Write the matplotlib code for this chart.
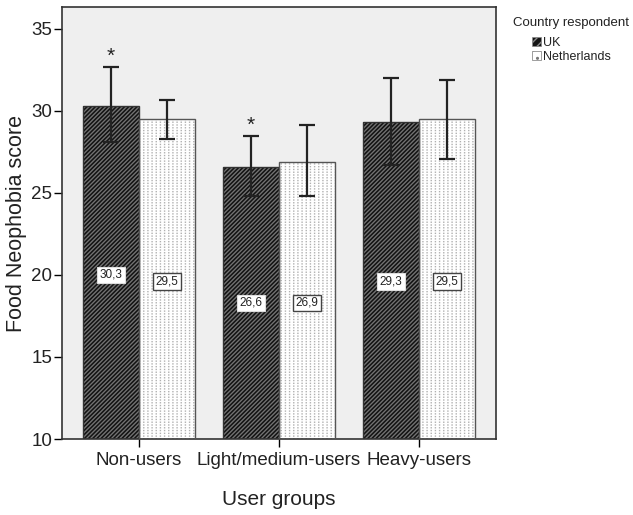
import matplotlib
matplotlib.use("Agg")
import matplotlib.pyplot as plt
import numpy as np
from matplotlib.patches import Patch

plt.rcParams['font.family'] = ['Liberation Sans', 'DejaVu Sans']
plt.rcParams['hatch.linewidth'] = 1.0

groups = ["Non-users", "Light/medium-users", "Heavy-users"]
countries = ["UK", "Netherlands"]
uk_means = [30.3, 26.6, 29.3]
nl_means = [29.5, 26.9, 29.5]
uk_ci_low = [28.1, 24.8, 26.7]
uk_ci_high = [32.7, 28.5, 32.0]
nl_ci_low = [28.3, 24.8, 27.1]
nl_ci_high = [30.7, 29.15, 31.9]
uk_signif = [True, True, False]
label_y_uk = [20.0, 18.3, 19.6]
label_y_nl = [19.6, 18.3, 19.6]

fig = plt.figure(figsize=(6.33, 5.15), dpi=100)
ax = fig.add_axes([62/633, 1-439/515, (496-62)/633, (439-7)/515])
ax.set_facecolor('#efefef')

x = np.arange(len(groups))
w = 0.4
bottom = 10

uk_h = [m - bottom for m in uk_means]
nl_h = [m - bottom for m in nl_means]

# UK bars: near-black fill with fine diagonal stripes
ax.bar(x - w/2, uk_h, w, bottom=bottom, color='#121212', edgecolor='#727272',
       hatch='////////', linewidth=0, zorder=2)
ax.bar(x - w/2, uk_h, w, bottom=bottom, fill=False, edgecolor='#333333',
       linewidth=1.0, zorder=3)
# Netherlands bars: white fill with dotted vertical lines
ax.bar(x + w/2, nl_h, w, bottom=bottom, color='white', edgecolor='#b0b0b0',
       hatch='||||', linewidth=0, zorder=2)
ax.bar(x + w/2, nl_h, w, bottom=bottom, fill=False, edgecolor='white',
       hatch='------', linewidth=0, zorder=2.5)
ax.bar(x + w/2, nl_h, w, bottom=bottom, fill=False, edgecolor='#555555',
       linewidth=1.0, zorder=3)

# 95% CI error bars
for xs, means, lo, hi in [(x - w/2, uk_means, uk_ci_low, uk_ci_high),
                          (x + w/2, nl_means, nl_ci_low, nl_ci_high)]:
    yerr = [np.array(means) - np.array(lo), np.array(hi) - np.array(means)]
    ax.errorbar(xs, means, yerr=yerr, fmt='none', ecolor='#222222',
                elinewidth=1.6, capsize=6, capthick=1.6, zorder=4)

# significance markers
for xi, hi, s in zip(x - w/2, uk_ci_high, uk_signif):
    if s:
        ax.text(xi, hi + 0.3, '*', ha='center', va='baseline', fontsize=15,
                color='#222222', zorder=5)

# value labels
for xi, m, ly in zip(x - w/2, uk_means, label_y_uk):
    ax.text(xi, ly, f"{m:.1f}".replace('.', ','), ha='center', va='center',
            fontsize=8.5, color='#222222', zorder=5,
            bbox=dict(boxstyle='square,pad=0.2', fc='white', ec='#dddddd', lw=0.8))
for xi, m, ly in zip(x + w/2, nl_means, label_y_nl):
    ax.text(xi, ly, f"{m:.1f}".replace('.', ','), ha='center', va='center',
            fontsize=8.5, color='#222222', zorder=5,
            bbox=dict(boxstyle='square,pad=0.2', fc='white', ec='#444444', lw=1.0))

ax.set_xlim(-0.55, 2.55)
ax.set_ylim(10, 36.34)
ax.set_yticks([10, 15, 20, 25, 30, 35])
ax.set_xticks(x)
ax.set_xticklabels(groups, fontsize=13.5)
ax.tick_params(axis='y', labelsize=13.5, length=6, width=1, pad=1,
               labelcolor='#222222')
ax.tick_params(axis='x', length=6, width=1, labelcolor='#222222')
for sp in ax.spines.values():
    sp.set_color('#333333')
    sp.set_linewidth(1.2)

ax.set_ylabel('Food Neophobia score', fontsize=15.5, color='#222222')
ax.yaxis.set_label_coords(-0.081, 0.5)
ax.set_xlabel('User groups', fontsize=15, color='#222222')
ax.xaxis.set_label_coords(0.5, -0.118)

fig.text(513/633, 1-23/515, 'Country respondent', fontsize=9.5,
         ha='left', va='center', color='#222222')
handles = [Patch(facecolor='#151515', edgecolor='#8a8a8a', hatch='////', lw=0.5),
           Patch(facecolor='white', edgecolor='#777777', hatch='..', lw=0.5)]
leg = fig.legend(handles, countries, loc='upper left',
                 bbox_to_anchor=(532/633, 1-37/515), frameon=False,
                 fontsize=9, handlelength=0.75, handleheight=0.75,
                 handletextpad=0.1, labelspacing=0.15, borderaxespad=0,
                 borderpad=0)
for t in leg.get_texts():
    t.set_color('#222222')

fig.savefig('out.png', dpi=100, facecolor='white')
